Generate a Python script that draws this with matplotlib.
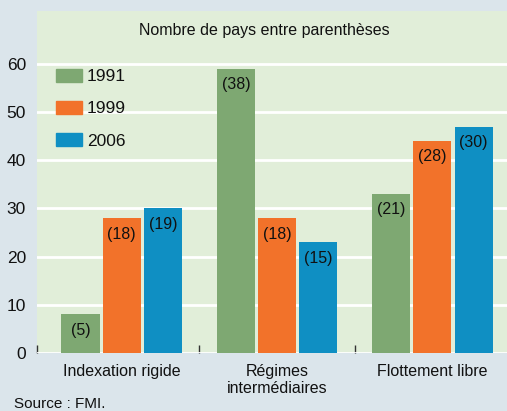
import numpy as np
import matplotlib.pyplot as plt
from matplotlib.patches import Patch

categories = ['Indexation rigide', 'Régimes\nintermédiaires', 'Flottement libre']
years = ['1991', '1999', '2006']
# percentage of countries (bar heights) and number of countries (labels)
shares = {
    '1991': [8, 59, 33],
    '1999': [28, 28, 44],
    '2006': [30, 23, 47],
}
counts = {
    '1991': [5, 38, 21],
    '1999': [18, 18, 28],
    '2006': [19, 15, 30],
}
colors = {'1991': '#7ea872', '1999': '#f2722a', '2006': '#0f8fc3'}

plt.rcParams['font.family'] = ['Liberation Sans', 'DejaVu Sans']

fig = plt.figure(figsize=(5.07, 4.11), dpi=100, facecolor='#dbe5eb')
ax = fig.add_axes([37 / 507, 1 - 353 / 411, 1 - 37 / 507, 342 / 411])
ax.set_facecolor('#e1eed9')

x = np.arange(len(categories))
width = 0.245
step = 0.265
for i, year in enumerate(years):
    pos = x + (i - 1) * step
    ax.bar(pos, shares[year], width, color=colors[year], zorder=3)
    for p, h, n in zip(pos, shares[year], counts[year]):
        ax.text(p, h - 3.3, f'({n})', ha='center', va='center',
                fontsize=11.5, color='#111111', zorder=4)

ax.set_xlim(-0.545, 2.48)
ax.set_ylim(0, 71)
ax.set_yticks(range(0, 70, 10))
ax.yaxis.grid(True, color='white', linewidth=2)
ax.set_axisbelow(True)
ax.tick_params(axis='y', length=0, labelsize=12.5, pad=8, labelcolor='#111111')
ax.set_xticks(x)
ax.set_xticklabels(categories, fontsize=11.5, linespacing=1.15, color='#111111')
ax.tick_params(axis='x', which='major', length=0, pad=8)
ax.set_xticks([-0.545, 0.5, 1.5], minor=True)
ax.tick_params(axis='x', which='minor', direction='in', length=6,
               color='#333333', width=1)
for s in ax.spines.values():
    s.set_visible(False)

ax.text(0.92, 67, 'Nombre de pays entre parenthèses', ha='center',
        va='center', fontsize=11.5, color='#111111')

handles = [Patch(color=colors[y]) for y in years]
ax.legend(handles, years, loc='upper left', bbox_to_anchor=(0.025, 0.852),
          frameon=False, fontsize=12.5, handlelength=1.5, handleheight=0.8,
          labelspacing=0.95, handletextpad=0.3, borderaxespad=0,
          labelcolor='#111111')

fig.text(14 / 507, 1 - 404 / 411, 'Source : FMI.', ha='left', va='center',
         fontsize=11, color='#111111')

fig.savefig('out.png', dpi=100, facecolor=fig.get_facecolor())
